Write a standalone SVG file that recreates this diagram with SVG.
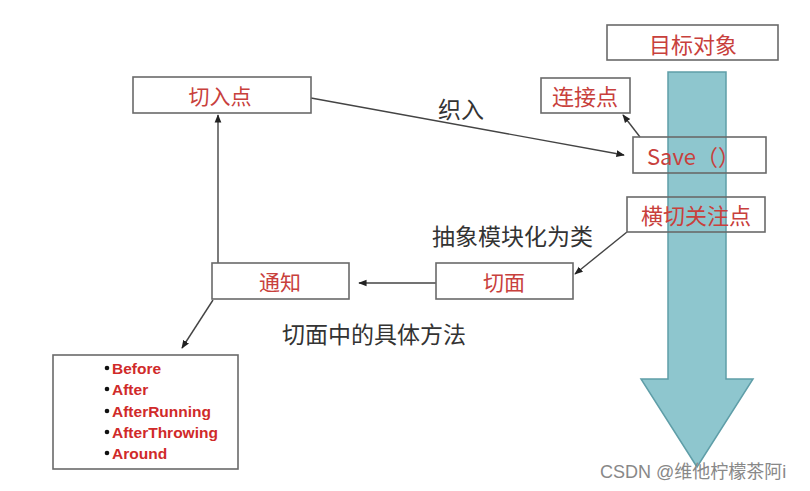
<svg xmlns="http://www.w3.org/2000/svg" width="810" height="491" viewBox="0 0 810 491">
<defs>
<style>
.box{fill:none;stroke:#6a6a6a;stroke-width:1.6}
.lbl{font-family:"Noto Sans CJK SC","Liberation Sans",sans-serif;fill:#c8403c;dominant-baseline:central}
.note{font-family:"Noto Sans CJK SC","Liberation Sans",sans-serif;fill:#333;font-size:23px;dominant-baseline:central}
.item{font-family:"Liberation Sans",Arial,sans-serif;font-weight:bold;font-size:15.5px;fill:#d02a2a;dominant-baseline:central}
.con{stroke:#444;stroke-width:1.4;fill:none}
</style>
<marker id="ah" viewBox="0 0 10 10" refX="9" refY="5" markerWidth="6" markerHeight="6" orient="auto">
<path d="M0,1 L10,5 L0,9 Z" fill="#222"/>
</marker>
</defs>
<rect width="810" height="491" fill="#ffffff"/>
<g id="big-arrow">
<polygon points="668,72 726,72 726,379 753,379 697,467 641,379 668,379" fill="#8ec6ce" stroke="#5f9ea8" stroke-width="1.5"/>
</g>
<g id="connectors">
<line class="con" x1="311" y1="98" x2="624" y2="155" marker-end="url(#ah)"/>
<line class="con" x1="640" y1="137" x2="623" y2="115" marker-end="url(#ah)"/>
<line class="con" x1="218" y1="263" x2="218" y2="115" marker-end="url(#ah)"/>
<line class="con" x1="436" y1="283" x2="359" y2="283" marker-end="url(#ah)"/>
<line class="con" x1="627" y1="232" x2="575" y2="274" marker-end="url(#ah)"/>
<line class="con" x1="213" y1="300" x2="182" y2="348" marker-end="url(#ah)"/>
</g>
<g id="target">
<rect class="box" x="607" y="25" width="171" height="35"/>
<text class="lbl" x="693" y="43" font-size="22" text-anchor="middle">目标对象</text>
</g>
<g id="joinpoint">
<rect class="box" x="541" y="78" width="89" height="35"/>
<text class="lbl" x="585" y="95" font-size="22" text-anchor="middle">连接点</text>
</g>
<g id="save">
<rect class="box" x="633" y="137" width="133" height="36"/>
<text class="lbl" x="647" y="155" font-size="22" text-anchor="start">Save（）</text>
</g>
<g id="crosscut">
<rect class="box" x="627" y="197" width="138" height="35"/>
<text class="lbl" x="696" y="214" font-size="22" text-anchor="middle">横切关注点</text>
</g>
<g id="pointcut">
<rect class="box" x="133" y="77" width="178" height="36"/>
<text class="lbl" x="220" y="95" font-size="21" text-anchor="middle">切入点</text>
</g>
<g id="advice">
<rect class="box" x="212" y="263" width="137" height="36"/>
<text class="lbl" x="280" y="281" font-size="21" text-anchor="middle">通知</text>
</g>
<g id="aspect">
<rect class="box" x="436" y="263" width="137" height="36"/>
<text class="lbl" x="504" y="281" font-size="21" text-anchor="middle">切面</text>
</g>
<g id="advice-types">
<rect class="box" x="53" y="355" width="185" height="114"/>
<g fill="#111">
<circle cx="107" cy="368" r="2.3"/>
<circle cx="107" cy="389" r="2.3"/>
<circle cx="107" cy="411" r="2.3"/>
<circle cx="107" cy="432" r="2.3"/>
<circle cx="107" cy="453" r="2.3"/>
</g>
<text class="item" x="112" y="368">Before</text>
<text class="item" x="112" y="389">After</text>
<text class="item" x="112" y="411">AfterRunning</text>
<text class="item" x="112" y="432">AfterThrowing</text>
<text class="item" x="112" y="453">Around</text>
</g>
<g id="labels">
<text class="note" x="438" y="108" font-size="22">织入</text>
<text class="note" x="432" y="235">抽象模块化为类</text>
<text class="note" x="282" y="333">切面中的具体方法</text>
<text x="600" y="472" font-family="Liberation Sans,'Noto Sans CJK SC',sans-serif" font-size="18" fill="#888" dominant-baseline="central">CSDN @维他柠檬茶阿i</text>
</g>
</svg>
